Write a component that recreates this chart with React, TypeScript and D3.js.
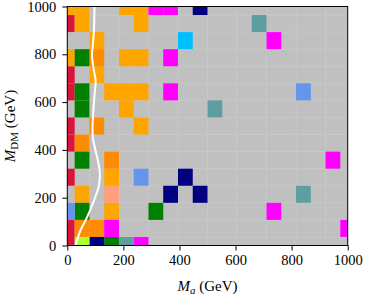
import React, { useEffect, useRef } from 'react';
import * as d3 from 'd3';

// scan grid (cell centres, GeV)
const maGrid = [0, 52.63, 105.26, 157.89, 210.53, 263.16, 315.79, 368.42, 421.05, 473.68,
    526.32, 578.95, 631.58, 684.21, 736.84, 789.47, 842.11, 894.74, 947.37, 1000];
const mdmGrid = [0, 71.43, 142.86, 214.29, 285.71, 357.14, 428.57, 500, 571.43, 642.86,
    714.29, 785.71, 857.14, 928.57, 1000];

// coloured cells as [maIndex, mdmIndex]
const crimsonCells = [[0, 13], [0, 10], [0, 9], [0, 7], [0, 6], [0, 4], [0, 1], [0, 0]];
const orangeCells = [[0, 14], [1, 14], [4, 14], [5, 14], [1, 13], [5, 13], [2, 12], [0, 11], [4, 11],
    [5, 11], [2, 10], [3, 9], [4, 9], [5, 9], [4, 8], [5, 7], [3, 4], [1, 3], [3, 2]];
const darkOrangeCells = [[2, 11], [2, 7], [1, 6], [3, 5], [1, 1], [2, 1]];
const greenCells = [[1, 11], [1, 9], [1, 8], [1, 5], [1, 2], [6, 2], [3, 0]];
const magentaCells = [[6, 14], [7, 14], [7, 11], [7, 9], [14, 12], [18, 5], [14, 2], [3, 1], [19, 1], [5, 0]];
const navyCells = [[9, 14], [8, 4], [7, 3], [9, 3], [2, 0]];
const skyCells = [[8, 12]];
const cadetCells = [[13, 13], [10, 8], [16, 3], [4, 0]];
const cornflowerCells = [[16, 9], [5, 4], [0, 2]];
const salmonCells = [[3, 3]];
const limeCells = [[1, 0]];

// white boundary curve
const curveMa = [29, 47, 70, 95, 113, 116, 109, 99, 91, 90, 93, 97, 101, 95, 88, 91, 95, 97];
const curveMdm = [0, 63, 117, 188, 251, 305, 356, 406, 452, 494, 565, 628, 690, 732, 795, 837, 900, 1000];

const ticks = [0, 200, 400, 600, 800, 1000];

const groups: [number[][], string][] = [
    [crimsonCells, '#dc143c'],
    [orangeCells, '#ffa500'],
    [darkOrangeCells, '#ff8c00'],
    [greenCells, '#008000'],
    [magentaCells, '#ff00ff'],
    [navyCells, '#000080'],
    [skyCells, '#00bfff'],
    [cadetCells, '#5f9ea0'],
    [cornflowerCells, '#6495ed'],
    [salmonCells, '#ffa07a'],
    [limeCells, '#adff2f'],
];

const edges = (g: number[]) => {
    const e = [g[0]];
    for (let k = 1; k < g.length; k++) e.push((g[k - 1] + g[k]) / 2);
    e.push(g[g.length - 1]);
    return e;
};

const App: React.FC = () => {
    const ref = useRef<SVGSVGElement>(null);

    useEffect(() => {
        if (!ref.current) return;
        const root = d3.select(ref.current);
        root.selectAll('*').remove();

        const left = 67.3, right = 347.7, top = 6.5, bottom = 245.5;
        const font = "'Liberation Serif', 'DejaVu Serif', serif";

        const x = d3.scaleLinear().domain([0, 1000]).range([left, right]);
        const y = d3.scaleLinear().domain([0, 1000]).range([bottom, top]);
        const xe = edges(maGrid);
        const ye = edges(mdmGrid);

        // background
        root.append('rect')
            .attr('x', left).attr('y', top)
            .attr('width', right - left).attr('height', bottom - top)
            .attr('fill', '#c0c0c0');

        // faint seams between cells
        const seams = root.append('g').attr('stroke', '#c9c9c9').attr('stroke-width', 0.8);
        xe.slice(1, -1).forEach((v, k) => {
            if (k % 2 === 1) {
                seams.append('line').attr('x1', x(v)).attr('x2', x(v)).attr('y1', top).attr('y2', bottom);
            }
        });
        ye.slice(1, -1).forEach(v => {
            seams.append('line').attr('x1', left).attr('x2', right).attr('y1', y(v)).attr('y2', y(v));
        });

        // cells
        groups.forEach(([cells, color]) => {
            root.append('g').selectAll('rect')
                .data(cells)
                .enter()
                .append('rect')
                .attr('x', d => x(xe[d[0]]))
                .attr('y', d => y(ye[d[1] + 1]))
                .attr('width', d => x(xe[d[0] + 1]) - x(xe[d[0]]))
                .attr('height', d => y(ye[d[1]]) - y(ye[d[1] + 1]))
                .attr('fill', color);
        });

        // white curve
        const pts = curveMa.map((m, k) => [m, curveMdm[k]] as [number, number]);
        root.append('path')
            .datum(pts)
            .attr('d', d3.line<[number, number]>()
                .x(d => x(d[0]))
                .y(d => y(d[1]))
                .curve(d3.curveCatmullRom))
            .attr('fill', 'none')
            .attr('stroke', 'white')
            .attr('stroke-width', 2);

        // frame
        root.append('rect')
            .attr('x', left).attr('y', top)
            .attr('width', right - left).attr('height', bottom - top)
            .attr('fill', 'none').attr('stroke', 'black').attr('stroke-width', 1);

        // axes
        const fmt = d3.format('d');
        const xAxis = root.append('g')
            .attr('transform', `translate(0,${bottom})`)
            .call(d3.axisBottom(x).tickValues(ticks).tickFormat(d => fmt(d as number))
                .tickSize(5).tickSizeOuter(0).tickPadding(4));
        const yAxis = root.append('g')
            .attr('transform', `translate(${left},0)`)
            .call(d3.axisLeft(y).tickValues(ticks).tickFormat(d => fmt(d as number))
                .tickSize(5).tickSizeOuter(0).tickPadding(6));
        [xAxis, yAxis].forEach(a => {
            a.select('.domain').remove();
            a.selectAll('line').attr('stroke', 'black');
            a.selectAll('text')
                .attr('font-family', font)
                .attr('font-size', '14.5px')
                .attr('fill', 'black');
        });

        // x label
        const xl = root.append('text')
            .attr('x', (left + right) / 2)
            .attr('y', 291)
            .attr('text-anchor', 'middle')
            .attr('font-family', font)
            .attr('font-size', '15px');
        xl.append('tspan').attr('font-style', 'italic').text('M');
        xl.append('tspan').attr('font-style', 'italic').attr('font-size', '11px').attr('dy', 3).text('a');
        xl.append('tspan').attr('dy', -3).text(' (GeV)');

        // y label
        const yl = root.append('text')
            .attr('transform', `translate(15,${(top + bottom) / 2}) rotate(-90)`)
            .attr('text-anchor', 'middle')
            .attr('font-family', font)
            .attr('font-size', '15px');
        yl.append('tspan').attr('font-style', 'italic').text('M');
        yl.append('tspan').attr('font-size', '11px').attr('dy', 3).text('DM');
        yl.append('tspan').attr('dy', -3).text(' (GeV)');
    }, []);

    return (
        <svg ref={ref} width={366} height={296}
            style={{ position: 'absolute', left: 0, top: 0, background: 'white' }} />
    );
};

export default App;
